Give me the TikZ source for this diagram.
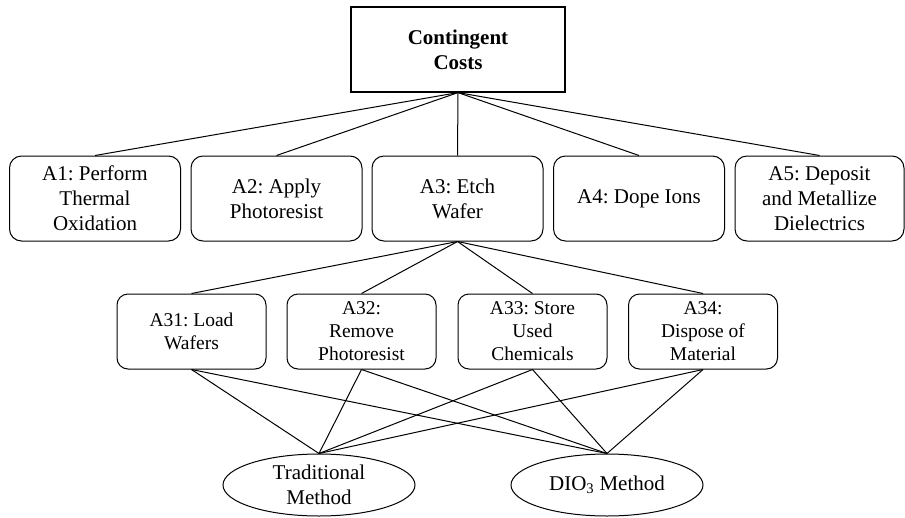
\documentclass[tikz,border=0pt]{standalone}
\usepackage{fontspec}
\setmainfont{Liberation Serif}
\usetikzlibrary{shapes.geometric}
\frenchspacing
\begin{document}
\begin{tikzpicture}[x=1pt,y=-1pt,
  every node/.style={inner sep=0pt, align=center},
  topbox/.style={draw, line width=1.2pt, minimum width=214pt, minimum height=85pt, font=\fontsize{21}{25}\selectfont\bfseries},
  actbox/.style={draw, line width=1pt, rounded corners=12pt, minimum width=171pt, minimum height=85pt, font=\fontsize{21}{25}\selectfont},
  subbox/.style={draw, line width=1pt, rounded corners=11pt, minimum width=149pt, minimum height=75pt, font=\fontsize{19.5}{23}\selectfont},
  methnode/.style={draw, ellipse, line width=1pt, minimum width=192pt, minimum height=62pt, font=\fontsize{21}{25}\selectfont},
  conn/.style={line width=1pt}]
\useasboundingbox (0,0) rectangle (905,517);
\node[topbox] (top) at (458,49.5) {Contingent\\Costs};
\node[actbox] (a1) at (95,198.5) {A1: Perform\\Thermal\\Oxidation};
\node[actbox] (a2) at (276.5,198.5) {A2: Apply\\Photoresist};
\node[actbox] (a3) at (457.5,198.5) {A3: Etch\\Wafer};
\node[actbox] (a4) at (639,198.5) {A4: Dope Ions};
\node[actbox, minimum width=169pt] (a5) at (819.5,198.5) {A5: Deposit\\and Metallize\\Dielectrics};
\node[subbox] (a31) at (191.5,331.5) {A31: Load\\Wafers};
\node[subbox] (a32) at (361.5,331.5) {A32:\\Remove\\Photoresist};
\node[subbox] (a33) at (532.5,331.5) {A33: Store\\Used\\Chemicals};
\node[subbox] (a34) at (703,331.5) {A34:\\Dispose of\\Material};
\node[methnode] (trad) at (319,485) {Traditional\\Method};
\node[methnode] (dio) at (607,485) {DIO\textsubscript{3} Method};
\foreach \n in {a1,a2,a3,a4,a5} \draw[conn] (top.south) -- (\n.north);
\foreach \n in {a31,a32,a33,a34} \draw[conn] (a3.south) -- (\n.north);
\foreach \n in {a31,a32,a33,a34} {
  \draw[conn] (\n.south) -- (trad.north);
  \draw[conn] (\n.south) -- (dio.north);
}
\end{tikzpicture}
\end{document}
